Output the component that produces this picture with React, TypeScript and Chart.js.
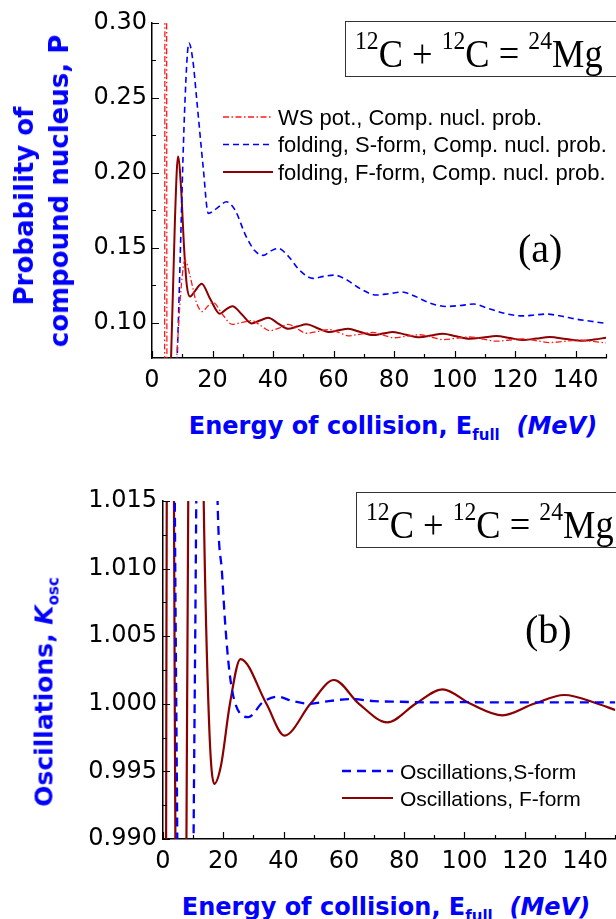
import React, { useEffect, useRef } from "react";
import { Chart, registerables } from "chart.js";

Chart.register(...registerables);

// ---------------- Panel (a): probability of compound nucleus ----------------
const wsEnergy = [3.5, 4.1, 4.55, 5.0, 6.2, 8.4, 9.7, 10.9, 12.6, 14.6, 16.6, 18.4, 20.2, 23.3, 26.5, 29.8, 33.0, 36.0, 38.9, 42.0, 45.0, 48.0, 51.0, 54.8, 58.7, 61.8, 64.8, 68.9, 73.0, 76.4, 79.8, 84.1, 88.4, 92.3, 96.2, 100.6, 105.0, 109.4, 113.8, 118.2, 122.5, 127.0, 131.4, 136.2, 141.0, 145.5, 150.0];
const wsProb = [0.0, 0.0, 1.0, 0.0, 0.0, 0.085, 0.125, 0.1418, 0.131, 0.114, 0.1075, 0.111, 0.1136, 0.1055, 0.099, 0.1002, 0.1015, 0.098, 0.0947, 0.0965, 0.099, 0.096, 0.093, 0.0942, 0.0955, 0.0935, 0.0913, 0.0924, 0.0935, 0.0918, 0.09, 0.091, 0.092, 0.0904, 0.0888, 0.0897, 0.0905, 0.0891, 0.0877, 0.0885, 0.0893, 0.088, 0.0868, 0.0876, 0.0884, 0.0876, 0.0866];

const sEnergy = [6.5, 8.3, 10.9, 12.2, 13.5, 14.8, 16.9, 18.6, 21.5, 24.6, 27.5, 31.0, 34.0, 36.7, 39.3, 41.7, 45.0, 48.8, 53.2, 56.8, 60.2, 64.0, 69.0, 74.2, 78.5, 82.6, 86.5, 92.0, 97.2, 101.8, 106.3, 110.5, 116.0, 122.5, 126.4, 130.3, 135.0, 140.0, 145.0, 150.0];
const sProb = [0.0, 0.0765, 0.248, 0.2867, 0.275, 0.2485, 0.204, 0.173, 0.1765, 0.1807, 0.175, 0.158, 0.148, 0.145, 0.148, 0.1496, 0.1445, 0.135, 0.1296, 0.131, 0.1318, 0.129, 0.1225, 0.1185, 0.1195, 0.1205, 0.118, 0.113, 0.1109, 0.1115, 0.1125, 0.11, 0.1065, 0.1046, 0.1052, 0.1058, 0.1045, 0.1025, 0.101, 0.0996];

const fEnergy = [4.5, 6.3, 7.6, 8.6, 9.6, 10.6, 11.5, 12.6, 14.3, 16.4, 19.2, 22.4, 24.5, 26.6, 29.7, 32.9, 35.6, 38.4, 41.7, 45.0, 48.0, 51.1, 54.9, 58.7, 61.7, 64.8, 68.9, 73.0, 76.3, 79.6, 84.0, 88.4, 92.2, 96.1, 100.5, 105.0, 109.4, 113.8, 118.2, 122.5, 127.0, 131.4, 136.8, 142.3, 146.0, 150.0];
const fProb = [0.0, 0.0765, 0.17, 0.211, 0.19, 0.15, 0.125, 0.1175, 0.1215, 0.126, 0.116, 0.106, 0.109, 0.111, 0.1055, 0.0996, 0.1015, 0.1033, 0.0995, 0.096, 0.0975, 0.099, 0.0962, 0.0938, 0.095, 0.096, 0.0938, 0.0918, 0.0928, 0.0938, 0.092, 0.0903, 0.0915, 0.0927, 0.091, 0.0893, 0.0902, 0.0911, 0.0898, 0.0885, 0.0895, 0.0905, 0.0892, 0.088, 0.0888, 0.09];

// ---------------- Panel (b): oscillations K_osc ----------------
const oscSEnergy = [0.0, 1.5, 4.4, 7.4, 10.5, 13.8, 18.1, 19.6, 20.7, 22.1, 24.0, 28.4, 33.0, 37.9, 43.0, 48.5, 55.0, 62.2, 70.0, 78.8, 88.0, 100.0, 112.0, 125.0, 138.0, 150.0];
const oscSK = [1.08, 1.08, 1.0, 0.92, 1.0, 1.08, 1.015, 1.0096, 1.0057, 1.00225, 1.0, 0.99902, 1.0001, 1.00053, 1.0002, 1.0, 1.0002, 1.00035, 1.0002, 1.00015, 1.0001, 1.00012, 1.0001, 1.0001, 1.0001, 1.0001];

const oscFEnergy = [0.0, 0.5, 1.1, 2.2, 3.9, 5.8, 8.0, 10.3, 13.5, 15.3, 17.0, 19.2, 22.2, 25.7, 34.3, 40.3, 48.9, 56.7, 65.0, 74.4, 83.8, 92.7, 102.0, 112.6, 123.0, 133.1, 144.2, 150.0];
const oscFK = [0.92, 0.92, 1.0, 1.08, 1.0, 0.92, 1.0, 1.08, 1.015, 0.9985, 0.99408, 0.9954, 1.0, 1.00331, 1.0, 0.99765, 1.0, 1.00176, 1.0, 0.99863, 1.0, 1.00107, 1.0, 0.99915, 1.0, 1.00065, 1.0, 0.99954];

// ---------------- Tick labels ----------------
const xTickValues = [0, 20, 40, 60, 80, 100, 120, 140];
const yTickValuesA = [0.1, 0.15, 0.2, 0.25, 0.3];
const yTickValuesB = [0.99, 0.995, 1.0, 1.005, 1.01, 1.015];

const legendA = [
  "WS pot., Comp. nucl. prob.",
  "folding, S-form, Comp. nucl. prob.",
  "folding, F-form, Comp. nucl. prob.",
];
const legendB = ["Oscillations,S-form", "Oscillations, F-form"];

const BLUE = "#0000ff";
const WINE = "#8b0000";
const RED = "#ff1a1a";
const TICK_FONT = "'DejaVu Sans', sans-serif";

const pts = (xs: number[], ys: number[]) => xs.map((x, i) => ({ x, y: ys[i] }));

const inwardTicks = {
  id: "inwardTicks",
  afterDatasetsDraw(chart: any, _a: any, o: any) {
    const { ctx, chartArea: ca, scales } = chart;
    const xs = scales.x;
    const ys = scales.y;
    ctx.save();
    ctx.strokeStyle = "#000";
    ctx.lineWidth = 1.2;
    ctx.beginPath();
    const n = Math.round((o.xTo - o.xFrom) / o.xMinor);
    for (let i = 0; i <= n; i++) {
      const v = o.xFrom + i * o.xMinor;
      const px = Math.round(xs.getPixelForValue(v)) + 0.5;
      const len = i % 2 === 0 ? 7 : 4;
      ctx.moveTo(px, ca.bottom);
      ctx.lineTo(px, ca.bottom - len);
    }
    const m = Math.round((o.yTo - o.yFrom) / o.yMinor);
    for (let i = 0; i <= m; i++) {
      const v = o.yFrom + i * o.yMinor;
      const py = Math.round(ys.getPixelForValue(v)) + 0.5;
      const len = i % 2 === 0 ? 7 : 4;
      ctx.moveTo(ca.left, py);
      ctx.lineTo(ca.left + len, py);
    }
    ctx.stroke();
    ctx.restore();
  },
};

function makeScales(opt: {
  yMin: number;
  yMax: number;
  yTicks: number[];
  digits: number;
  yWidth: number;
  xHeight: number;
  yPad: number;
  xPad: number;
}) {
  return {
    x: {
      type: "linear",
      min: 0,
      max: 150,
      grid: { display: false, drawTicks: false },
      border: { display: true, color: "#000", width: 1.5 },
      ticks: {
        font: { family: TICK_FONT, size: 24 },
        color: "#000",
        padding: opt.xPad,
        maxRotation: 0,
        autoSkip: false,
        callback: (v: any) => String(v),
      },
      afterBuildTicks: (s: any) => {
        s.ticks = xTickValues.map((v) => ({ value: v }));
      },
      afterFit: (s: any) => {
        s.height = opt.xHeight;
      },
    },
    y: {
      type: "linear",
      min: opt.yMin,
      max: opt.yMax,
      grid: { display: false, drawTicks: false },
      border: { display: true, color: "#000", width: 1.5 },
      ticks: {
        font: { family: TICK_FONT, size: 24 },
        color: "#000",
        padding: opt.yPad,
        autoSkip: false,
        callback: (v: any) => Number(v).toFixed(opt.digits),
      },
      afterBuildTicks: (s: any) => {
        s.ticks = opt.yTicks.map((v) => ({ value: v }));
      },
      afterFit: (s: any) => {
        s.width = opt.yWidth;
      },
    },
  };
}

function ChartCanvas(props: { config: any; top: number; height: number }) {
  const ref = useRef<HTMLCanvasElement | null>(null);
  useEffect(() => {
    if (!ref.current) return;
    const chart = new Chart(ref.current, props.config);
    return () => chart.destroy();
  }, []);
  return (
    <canvas
      ref={ref}
      width={616}
      height={props.height}
      style={{ position: "absolute", left: 0, top: props.top, width: 616, height: props.height }}
    />
  );
}

const lineBase = {
  pointRadius: 0,
  fill: false,
  cubicInterpolationMode: "monotone",
};

const configA = {
  type: "line",
  data: {
    datasets: [
      { ...lineBase, label: legendA[0], data: pts(wsEnergy, wsProb), borderColor: RED, borderWidth: 1.3, borderDash: [6, 2.5, 1.5, 2.5] },
      { ...lineBase, label: legendA[1], data: pts(sEnergy, sProb), borderColor: BLUE, borderWidth: 1.6, borderDash: [6, 4] },
      { ...lineBase, label: legendA[2], data: pts(fEnergy, fProb), borderColor: WINE, borderWidth: 2 },
    ],
  },
  options: {
    animation: false,
    responsive: false,
    devicePixelRatio: 1,
    layout: { padding: { top: 23, right: 10, left: 0, bottom: 0 } },
    plugins: {
      legend: { display: false },
      tooltip: { enabled: false },
      inwardTicks: { xFrom: 0, xTo: 150, xMinor: 10, yFrom: 0.1, yTo: 0.3, yMinor: 0.025 },
    },
    scales: makeScales({ yMin: 0.0765, yMax: 0.3, yTicks: yTickValuesA, digits: 2, yWidth: 152, xHeight: 42, yPad: 5, xPad: 8 }),
  },
  plugins: [inwardTicks],
};

const configB = {
  type: "line",
  data: {
    datasets: [
      { ...lineBase, label: legendB[0], data: pts(oscSEnergy, oscSK), borderColor: BLUE, borderWidth: 2.3, borderDash: [9, 6] },
      { ...lineBase, label: legendB[1], data: pts(oscFEnergy, oscFK), borderColor: WINE, borderWidth: 2.2 },
    ],
  },
  options: {
    animation: false,
    responsive: false,
    devicePixelRatio: 1,
    layout: { padding: { top: 41, right: 0, left: 0, bottom: 0 } },
    plugins: {
      legend: { display: false },
      tooltip: { enabled: false },
      inwardTicks: { xFrom: 0, xTo: 150, xMinor: 10, yFrom: 0.99, yTo: 1.015, yMinor: 0.0025 },
    },
    scales: makeScales({ yMin: 0.99, yMax: 1.015, yTicks: yTickValuesB, digits: 3, yWidth: 163, xHeight: 41, yPad: 6, xPad: 8 }),
  },
  plugins: [inwardTicks],
};

const titleStyle: React.CSSProperties = {
  position: "absolute",
  whiteSpace: "nowrap",
  fontFamily: TICK_FONT,
  fontWeight: "bold",
  color: BLUE,
};

const subStyle: React.CSSProperties = { fontSize: 15, position: "relative", top: 6 };

function XTitle(props: { cx: number; top: number }) {
  return (
    <div style={{ ...titleStyle, left: props.cx, top: props.top, transform: "translateX(-50%)", fontSize: 24, lineHeight: "24px" }}>
      Energy of collision, E<span style={subStyle}>full</span>
      {"\u00a0\u00a0"}
      <i>(MeV)</i>
    </div>
  );
}

function FormulaBox(props: { left: number; top: number }) {
  const sup: React.CSSProperties = { fontSize: 26, position: "relative", top: -18 };
  return (
    <>
      <div
        style={{
          position: "absolute",
          left: props.left,
          top: props.top,
          width: 320,
          height: 54,
          border: "1.4px solid #333",
          background: "#fff",
        }}
      />
      <div
        style={{
          position: "absolute",
          left: props.left + 10,
          top: props.top + 13,
          whiteSpace: "nowrap",
          fontFamily: "'Liberation Serif', 'Times New Roman', serif",
          fontSize: 40,
          lineHeight: "40px",
          color: "#000",
          transform: "scaleX(0.91)",
          transformOrigin: "left center",
        }}
      >
        <span style={sup}>12</span>C + <span style={sup}>12</span>C = <span style={sup}>24</span>Mg
      </div>
    </>
  );
}

function PanelLabel(props: { text: string; left: number; top: number }) {
  return (
    <div
      style={{
        position: "absolute",
        left: props.left,
        top: props.top,
        fontFamily: "'Liberation Serif', 'Times New Roman', serif",
        fontSize: 40,
        lineHeight: "40px",
        color: "#000",
        whiteSpace: "nowrap",
      }}
    >
      {props.text}
    </div>
  );
}

function Legend(props: {
  items: { text: string; color: string; width: number; dash: string }[];
  lineX: number;
  lineLen: number;
  textX: number;
  ys: number[];
  fontSize: number;
}) {
  const minY = Math.min(...props.ys) - 15;
  const maxY = Math.max(...props.ys) + 15;
  return (
    <>
      <svg
        style={{ position: "absolute", left: props.lineX, top: minY }}
        width={props.lineLen}
        height={maxY - minY}
      >
        {props.items.map((it, i) => (
          <line
            key={i}
            x1={0}
            x2={props.lineLen}
            y1={props.ys[i] - minY}
            y2={props.ys[i] - minY}
            stroke={it.color}
            strokeWidth={it.width}
            strokeDasharray={it.dash}
          />
        ))}
      </svg>
      {props.items.map((it, i) => (
        <div
          key={"t" + i}
          style={{
            position: "absolute",
            left: props.textX,
            top: props.ys[i] - props.fontSize * 0.47,
            fontFamily: "'Liberation Sans', Arial, sans-serif",
            fontSize: props.fontSize,
            lineHeight: props.fontSize + "px",
            color: "#000",
            whiteSpace: "nowrap",
          }}
        >
          {it.text}
        </div>
      ))}
    </>
  );
}

export default function App() {
  return (
    <div
      style={{
        position: "absolute",
        left: 0,
        top: 0,
        width: 616,
        height: 919,
        overflow: "hidden",
        background: "#fff",
      }}
    >
      <ChartCanvas config={configA} top={0} height={400} />
      <ChartCanvas config={configB} top={460} height={420} />

      {/* Panel (a) texts */}
      <div
        style={{
          ...titleStyle,
          left: 42,
          top: 191,
          transform: "translate(-50%, -50%) rotate(-90deg)",
          textAlign: "center",
          fontSize: 26,
          lineHeight: "35px",
        }}
      >
        <div style={{ position: "relative", left: -15 }}>Probability of</div>
        <div>compound nucleus, P</div>
      </div>
      <XTitle cx={393} top={414} />
      <FormulaBox left={345} top={21} />
      <PanelLabel text="(a)" left={518} top={229} />
      <Legend
        items={[
          { text: legendA[0], color: RED, width: 1.3, dash: "6 2.5 1.5 2.5" },
          { text: legendA[1], color: BLUE, width: 1.6, dash: "6 4" },
          { text: legendA[2], color: WINE, width: 2, dash: "" },
        ]}
        lineX={223}
        lineLen={50}
        textX={278}
        ys={[117, 144.5, 172]}
        fontSize={22}
      />

      {/* Panel (b) texts */}
      <div
        style={{
          ...titleStyle,
          left: 46,
          top: 692,
          transform: "translate(-50%, -50%) rotate(-90deg)",
          fontSize: 25,
          lineHeight: "30px",
        }}
      >
        Oscillations, <i>K</i>
        <span style={subStyle}>osc</span>
      </div>
      <XTitle cx={386} top={895} />
      <FormulaBox left={356} top={492} />
      <PanelLabel text="(b)" left={525} top={610} />
      <Legend
        items={[
          { text: legendB[0], color: BLUE, width: 2.3, dash: "9 6" },
          { text: legendB[1], color: WINE, width: 2.2, dash: "" },
        ]}
        lineX={342}
        lineLen={51}
        textX={400}
        ys={[771, 798]}
        fontSize={21}
      />
    </div>
  );
}
